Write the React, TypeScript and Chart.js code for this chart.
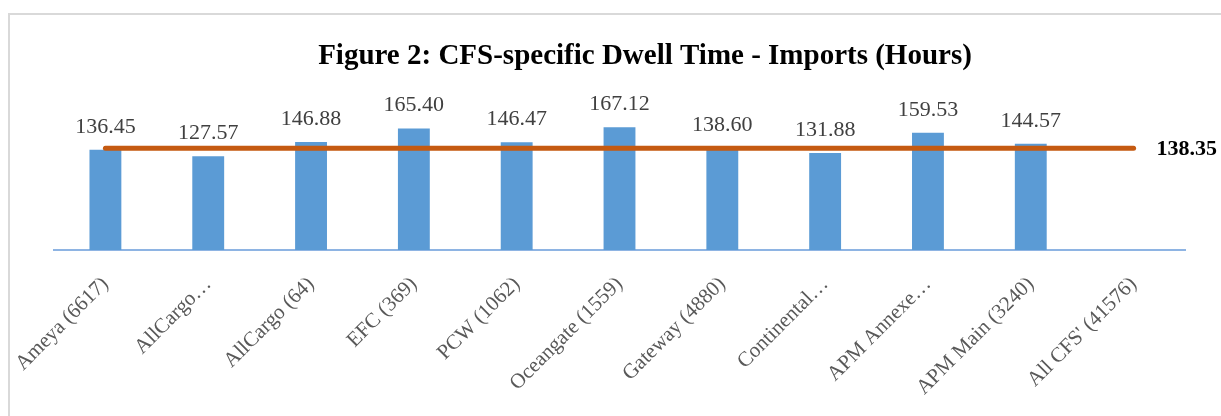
import React, { useEffect, useRef } from "react";
import { Chart, registerables } from "chart.js";

Chart.register(...registerables);

const TITLE = "Figure 2: CFS-specific Dwell Time - Imports (Hours)";
const categories = [
  "Ameya (6617)",
  "AllCargo…",
  "AllCargo (64)",
  "EFC (369)",
  "PCW (1062)",
  "Oceangate (1559)",
  "Gateway (4880)",
  "Continental…",
  "APM Annexe…",
  "APM Main (3240)",
  "All CFS' (41576)",
];
const dwellHours: (number | null)[] = [136.45, 127.57, 146.88, 165.4, 146.47, 167.12, 138.6, 131.88, 159.53, 144.57, null];
const averageValue = 138.35;
const averageLine = categories.map(() => averageValue);

const SERIF = "'Liberation Serif', 'DejaVu Serif', serif";

const decorPlugin = {
  id: "decor",
  beforeDraw(chart: any) {
    const ctx = chart.ctx;
    ctx.save();
    ctx.strokeStyle = "#d9d9d9";
    ctx.lineWidth = 2;
    ctx.strokeRect(9, 14, 1400, 600);
    ctx.restore();
  },
  afterDraw(chart: any) {
    const ctx = chart.ctx;
    ctx.save();
    // title
    ctx.fillStyle = "#000000";
    ctx.font = `bold 29px ${SERIF}`;
    ctx.textAlign = "center";
    ctx.textBaseline = "alphabetic";
    ctx.fillText(TITLE, 645, 64);
    // data labels
    const meta = chart.getDatasetMeta(0);
    ctx.font = `22px ${SERIF}`;
    ctx.fillStyle = "#404040";
    meta.data.forEach((bar: any, i: number) => {
      const v = dwellHours[i];
      if (v == null) return;
      ctx.fillText(v.toFixed(2), bar.x, bar.y - 17);
    });
    // average label
    const lineMeta = chart.getDatasetMeta(1);
    const last = lineMeta.data[lineMeta.data.length - 1];
    ctx.font = `bold 22px ${SERIF}`;
    ctx.fillStyle = "#000000";
    ctx.textAlign = "left";
    ctx.textBaseline = "middle";
    ctx.fillText(averageValue.toFixed(2), last.x + 23, last.y + 1);
    ctx.restore();
  },
};

export default function App() {
  const ref = useRef<HTMLCanvasElement | null>(null);
  useEffect(() => {
    if (!ref.current) return;
    const chart = new Chart(ref.current, {
      type: "bar",
      data: {
        labels: categories,
        datasets: [
          {
            type: "bar",
            label: "Dwell time",
            data: dwellHours,
            backgroundColor: "#5b9bd5",
            barPercentage: 0.62,
            categoryPercentage: 0.5,
            order: 2,
          },
          {
            type: "line",
            label: "Average",
            data: averageLine,
            borderColor: "#c55a11",
            borderWidth: 5,
            borderCapStyle: "round",
            pointRadius: 0,
            order: 1,
          } as any,
        ],
      },
      options: {
        responsive: true,
        maintainAspectRatio: false,
        animation: false,
        layout: { padding: { left: 54, right: 36, top: 103, bottom: 0 } },
        plugins: { legend: { display: false }, tooltip: { enabled: false }, title: { display: false } },
        scales: {
          x: {
            grid: { display: false, drawTicks: false },
            border: { display: true, color: "#8eb4e3", width: 2 },
            ticks: {
              minRotation: 45,
              maxRotation: 45,
              autoSkip: false,
              padding: 22,
              color: "#595959",
              font: { family: SERIF, size: 21 },
            },
            afterFit: (scale: any) => {
              scale.height = 166;
              scale.paddingLeft = 0;
              scale.paddingRight = 0;
            },
          },
          y: {
            display: false,
            min: 0,
            max: 200,
          },
        },
      },
      plugins: [decorPlugin],
    });
    return () => chart.destroy();
  }, []);
  return (
    <div style={{ position: "fixed", left: 0, top: 0, width: 1221, height: 416, background: "#fff" }}>
      <canvas ref={ref} />
    </div>
  );
}
